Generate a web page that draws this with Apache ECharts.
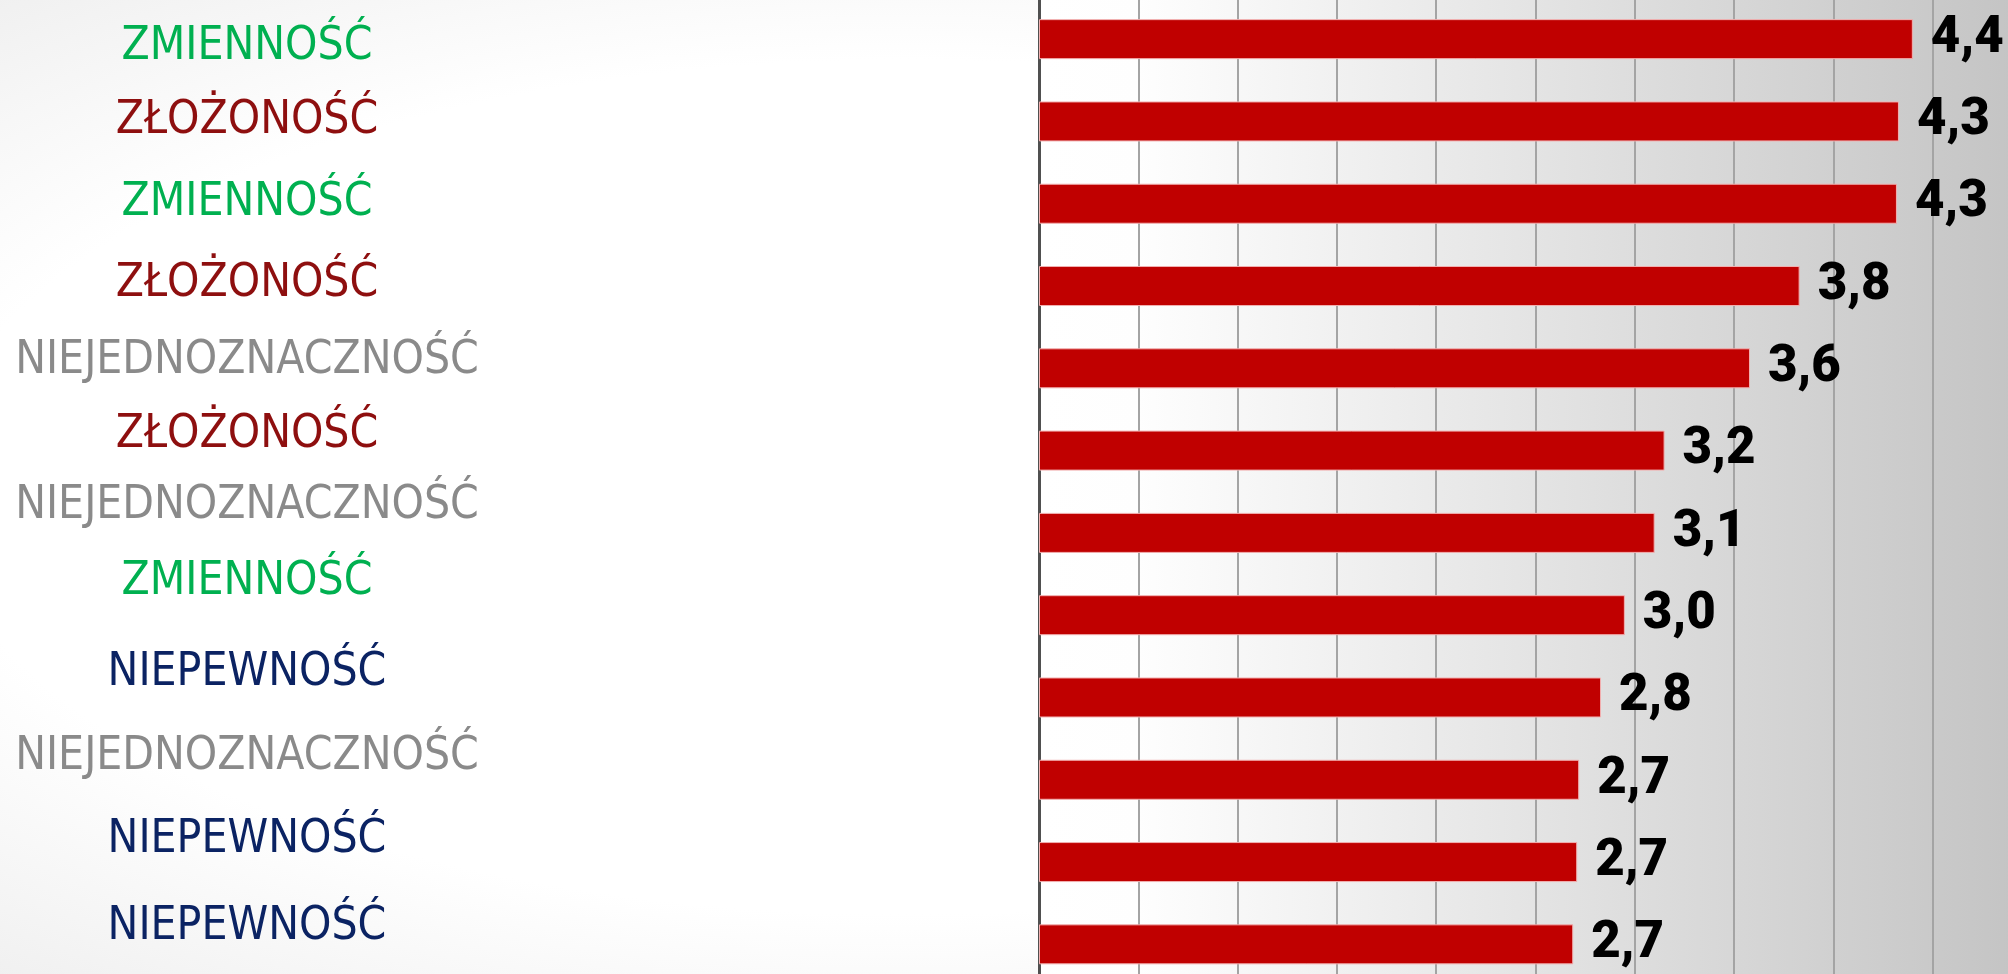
<!DOCTYPE html>
<html>
<head>
<meta charset="utf-8">
<script src="https://cdn.jsdelivr.net/npm/echarts@6/dist/echarts.min.js"></script>
<style>
  html, body { margin: 0; padding: 0; width: 2008px; height: 974px; overflow: hidden;
    background: radial-gradient(ellipse at 45% 50%, #ffffff 62%, #ececec 100%); }
  #chart { width: 2008px; height: 974px; }
</style>
</head>
<body>
<div id="chart"></div>
<script>
// ---- data ----
const categories = [
  'ZMIENNOŚĆ', 'ZŁOŻONOŚĆ', 'ZMIENNOŚĆ', 'ZŁOŻONOŚĆ', 'NIEJEDNOZNACZNOŚĆ', 'ZŁOŻONOŚĆ',
  'NIEJEDNOZNACZNOŚĆ', 'ZMIENNOŚĆ', 'NIEPEWNOŚĆ', 'NIEJEDNOZNACZNOŚĆ', 'NIEPEWNOŚĆ', 'NIEPEWNOŚĆ'
];
const values = [4.40, 4.33, 4.32, 3.83, 3.58, 3.15, 3.10, 2.95, 2.83, 2.72, 2.71, 2.69];
const valueLabels = ['4,4', '4,3', '4,3', '3,8', '3,6', '3,2', '3,1', '3,0', '2,8', '2,7', '2,7', '2,7'];

// ---- styling ----
const categoryColors = {
  'ZMIENNOŚĆ': '#00b050',
  'ZŁOŻONOŚĆ': '#8e0f0f',
  'NIEJEDNOZNACZNOŚĆ': '#8a8a8a',
  'NIEPEWNOŚĆ': '#0b2363'
};
// vertical shift (px) of each category label relative to its bar (negative = up)
const labelShift = [8, 0, -1, -2, -7, -16, -27, -33, -24, -23, -22, -17];

// pick an installed (preferably condensed) font and size it so the longest label is ~462px wide
const ctx = document.createElement('canvas').getContext('2d');
function w(font, s) { ctx.font = font; return ctx.measureText(s).width; }
const probe = 'NIEJEDNOZNACZNOŚĆ';
const candidates = ['DejaVu Sans Condensed', 'Roboto', 'Liberation Sans'];
let labelFont = 'Roboto';
for (const f of candidates) {
  if (w('100px "' + f + '", monospace', probe) !== w('100px monospace', probe)) { labelFont = f; break; }
}
const labelSize = Math.round(464 / w('100px "' + labelFont + '"', probe) * 100 * 10) / 10;

const rich = {};
labelShift.forEach((d, i) => {
  rich['c' + i] = {
    color: categoryColors[categories[i]],
    fontFamily: '"' + labelFont + '", sans-serif',
    fontSize: labelSize,
    padding: d < 0 ? [0, 0, -2 * d, 0] : [2 * d, 0, 0, 0]
  };
});

const chart = echarts.init(document.getElementById('chart'), null, { renderer: 'canvas' });
chart.setOption({
  animation: false,
  backgroundColor: 'transparent',
  grid: {
    left: 1039, top: -2, width: 993, height: 987.5,
    outerBoundsMode: 'none', containLabel: false,
    show: true, borderWidth: 0,
    backgroundColor: new echarts.graphic.LinearGradient(0, 0, 1, 0, [
      { offset: 0, color: '#ffffff' },
      { offset: 0.1, color: '#fefefe' },
      { offset: 1, color: '#c3c3c3' }
    ])
  },
  xAxis: {
    type: 'value', min: 0, max: 5, interval: 0.5,
    axisLine: { show: false }, axisTick: { show: false }, axisLabel: { show: false },
    splitLine: { show: true, lineStyle: { color: '#a4a4a4', width: 2 } }
  },
  yAxis: {
    type: 'category', inverse: true, data: categories,
    axisLine: { show: true, lineStyle: { color: '#505050', width: 3 } },
    axisTick: { show: false },
    splitLine: { show: false },
    axisLabel: {
      show: true, interval: 0, align: 'center', margin: 792,
      formatter: (v, i) => '{c' + i + '|' + v + '}',
      rich: rich
    }
  },
  series: [{
    type: 'bar',
    data: values,
    barWidth: 40,
    itemStyle: { color: '#c00000', borderColor: '#f2b0b0', borderWidth: 1 },
    label: {
      show: true, position: 'right', distance: 18,
      formatter: p => valueLabels[p.dataIndex],
      fontFamily: 'Roboto, "Liberation Sans", sans-serif',
      fontWeight: 900, fontSize: 51, color: '#000000'
    }
  }]
});
</script>
</body>
</html>
